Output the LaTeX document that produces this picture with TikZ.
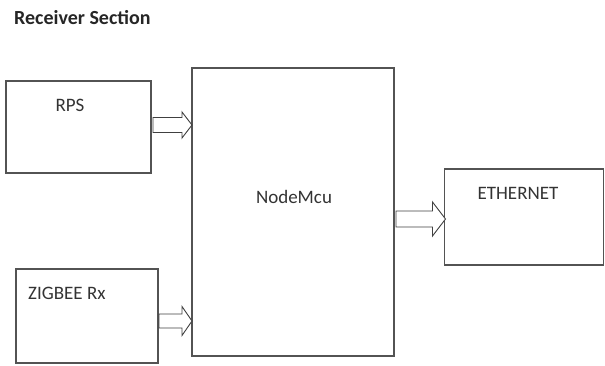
\documentclass[tikz,border=0pt]{standalone}
\usepackage{fontspec}
\setmainfont{Carlito}
\usetikzlibrary{calc}
\begin{document}
\begin{tikzpicture}[x=1pt,y=-1pt,
  blockbox/.style={draw=gray!65!black,line width=1.3pt,rectangle,inner sep=0pt,outer sep=0pt},
  lbl/.style={text=black!80,font=\fontsize{19}{22}\selectfont,inner sep=0pt},
  blk/.style={draw=black!75,line width=0.9pt,fill=white,line join=miter}]
\useasboundingbox (0,0) rectangle (605,365);
\node[lbl,anchor=west,font=\fontsize{20}{23}\selectfont\bfseries,text=black!85] (title) at (14,18) {Receiver Section};
\node[blockbox,minimum width=145pt,minimum height=92pt] (rps) at (78.5,127) {};
\node[blockbox,minimum width=202pt,minimum height=288pt] (mcu) at (293,212) {};
\node[blockbox,minimum width=142pt,minimum height=94pt] (zig) at (87,316) {};
\node[blockbox,minimum width=159pt,minimum height=96pt] (eth) at (524,217) {};
\node[lbl] (trps) at (70,105) {RPS};
\node[lbl,anchor=west] (tzig) at (28,293) {ZIGBEE Rx};
\node[lbl] (teth) at (518,193) {ETHERNET};
\node[lbl] (tmcu) at (294,197) {NodeMcu};
\coordinate (s1) at (rps.east |- 0,125);
\coordinate (s2) at (zig.east |- 0,321);
\coordinate (s3) at (mcu.east |- 0,219);
\draw[blk] let \p1=($(s1)+(2,0)$), \p2=(mcu.west) in
  (\x1,\y1+7.5pt) -- (\x2-10pt,\y1+7.5pt) -- (\x2-10pt,\y1+13pt) -- (\x2,\y1)
  -- (\x2-10pt,\y1-13pt) -- (\x2-10pt,\y1-7.5pt) -- (\x1,\y1-7.5pt) -- cycle;
\draw[blk] let \p1=($(s2)+(1,0)$), \p2=(mcu.west) in
  (\x1,\y1+7pt) -- (\x2-10pt,\y1+7pt) -- (\x2-10pt,\y1+14.5pt) -- (\x2,\y1)
  -- (\x2-10pt,\y1-14.5pt) -- (\x2-10pt,\y1-7pt) -- (\x1,\y1-7pt) -- cycle;
\draw[blk] let \p1=($(s3)+(2,0)$), \p2=(eth.west) in
  (\x1,\y1+8pt) -- (\x2-12pt,\y1+8pt) -- (\x2-12pt,\y1+17pt) -- (\x2+1pt,\y1)
  -- (\x2-12pt,\y1-17pt) -- (\x2-12pt,\y1-8pt) -- (\x1,\y1-8pt) -- cycle;
\end{tikzpicture}
\end{document}
